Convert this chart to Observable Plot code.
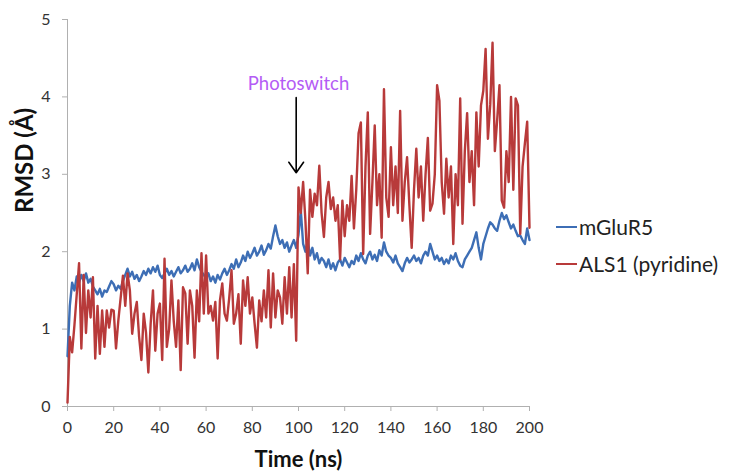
<!DOCTYPE html>
<html>
<head>
<meta charset="utf-8">
<script src="https://cdn.jsdelivr.net/npm/d3@7"></script>
<script src="https://cdn.jsdelivr.net/npm/@observablehq/plot@0.6"></script>
<style>
  html, body { margin: 0; padding: 0; background: #fff; }
  #wrap { position: relative; width: 733px; height: 472px; font-family: Lato, "Open Sans", sans-serif; }
  .legend { position: absolute; left: 556px; top: 208px; font-size: 21px; color: #222; }
  .legend .item { display: flex; align-items: center; height: 37px; }
  .legend .swatch { width: 21px; height: 2px; margin-right: 2px; }
</style>
</head>
<body>
<div id="wrap"></div>
<script>
const seriesNames = ["mGluR5", "ALS1 (pyridine)"];
const seriesColors = ["#3d6eb5", "#b83a3a"];
const yTicks = [0, 1, 2, 3, 4, 5];
const xTicks = [0, 20, 40, 60, 80, 100, 120, 140, 160, 180, 200];

// time in ns, one sample per ns
const timeNs = d3.range(0, 201);

const mGluR5 = [
  0.65,1.3,1.6,1.5,1.68,1.6,1.7,1.62,1.72,1.6,
  1.65,1.55,1.5,1.45,1.52,1.42,1.5,1.48,1.55,1.62,
  1.58,1.5,1.56,1.52,1.62,1.7,1.78,1.68,1.74,1.65,
  1.7,1.62,1.68,1.75,1.7,1.78,1.72,1.8,1.74,1.82,
  1.7,1.66,1.72,1.78,1.7,1.75,1.68,1.74,1.8,1.72,
  1.76,1.82,1.74,1.78,1.85,1.76,1.9,1.8,1.74,1.7,
  1.66,1.72,1.62,1.68,1.6,1.7,1.64,1.72,1.78,1.7,
  1.76,1.84,1.78,1.9,1.8,1.86,1.95,1.88,2.0,1.92,
  1.98,2.05,1.95,2.0,2.08,1.96,2.02,2.1,2.04,2.2,
  2.34,2.2,2.1,2.15,2.05,2.12,2.0,2.08,2.15,2.05,
  2.22,2.53,2.1,2.0,2.15,1.95,2.05,1.9,1.98,1.85,
  1.92,1.88,1.8,1.9,1.78,1.85,1.76,1.86,1.9,1.82,
  1.92,1.86,1.8,1.88,1.84,1.95,1.88,1.98,1.9,1.85,
  1.95,2.0,1.9,1.96,1.88,2.02,1.95,2.12,2.0,1.95,
  1.92,1.86,1.95,1.85,1.8,1.75,1.85,1.92,1.86,1.9,
  1.95,1.88,1.92,1.85,1.95,2.0,1.95,2.1,2.0,1.9,
  1.95,1.88,1.92,1.84,1.9,1.85,1.95,1.9,1.98,1.88,
  1.82,1.8,1.9,1.95,2.0,2.05,2.15,2.25,2.05,1.9,
  2.1,2.2,2.3,2.38,2.35,2.3,2.27,2.4,2.5,2.42,
  2.47,2.38,2.3,2.35,2.27,2.2,2.21,2.15,2.1,2.3,
  2.15
];

const als1 = [
  0.05,0.9,0.7,1.05,1.45,1.85,0.75,1.7,0.95,1.5,
  1.15,1.67,0.62,1.3,0.68,1.24,0.77,1.24,1.02,1.25,
  1.24,0.75,1.11,1.4,1.69,1.3,1.72,1.5,0.94,1.2,
  1.35,0.9,0.6,1.2,0.95,0.44,1.07,1.5,0.72,1.2,
  1.33,0.6,1.91,0.77,1.0,1.63,1.1,0.77,1.37,0.47,
  1.54,1.46,0.81,1.5,1.3,0.63,1.5,1.1,1.98,1.2,
  1.95,1.2,1.3,1.11,1.35,0.62,1.37,1.59,1.2,1.11,
  1.4,1.76,1.07,1.2,1.45,0.81,1.63,1.3,1.67,1.2,
  1.41,1.07,0.76,1.37,1.1,1.5,1.15,1.76,1.02,1.72,
  1.15,1.5,1.41,1.07,1.67,1.2,1.8,1.15,1.84,0.85,
  2.83,2.5,2.9,2.4,1.72,2.8,2.45,2.75,2.6,3.11,
  2.5,2.19,2.7,2.9,2.55,2.7,2.4,2.6,1.9,2.66,
  2.2,2.6,2.4,2.98,2.3,2.8,3.53,3.67,1.97,3.1,
  3.8,2.23,2.9,3.63,2.6,3.0,2.18,4.1,2.7,2.45,
  3.35,2.6,3.1,2.5,3.82,2.4,2.9,3.22,2.6,2.05,
  2.8,3.33,2.7,3.1,2.4,3.0,3.47,2.53,2.62,3.0,
  4.15,3.95,2.9,2.49,3.2,2.7,3.1,2.1,3.0,2.6,
  3.98,2.36,3.3,3.79,2.9,3.3,2.6,3.8,3.1,3.89,
  4.08,4.62,3.46,3.9,4.7,3.3,3.7,4.15,2.66,2.57,
  3.3,2.9,4.0,2.8,3.98,3.89,2.23,3.1,3.4,3.68,
  2.31
];

// annotation
const noteText = ["Photoswitch"];
const noteX = [100];
const noteY = [4.16];
const arrowX = [99];
const arrowFrom = [3.99];
const arrowTo = [3.02];

const rows = [];
timeNs.forEach((t, i) => {
  rows.push({t, v: mGluR5[i], s: seriesNames[0]});
});
timeNs.forEach((t, i) => {
  rows.push({t, v: als1[i], s: seriesNames[1]});
});

const chart = Plot.plot({
  width: 733,
  height: 472,
  marginLeft: 67,
  marginRight: 204,
  marginTop: 19,
  marginBottom: 66,
  style: {fontFamily: "Lato, 'Open Sans', sans-serif", fontSize: "16px", color: "#333", background: "#fff"},
  x: {domain: [0, 200], ticks: xTicks, label: null},
  y: {domain: [0, 5], ticks: yTicks, label: null},
  color: {domain: seriesNames, range: seriesColors},
  marks: [
    Plot.ruleX([0], {stroke: "#b0b0b0", strokeWidth: 1}),
    Plot.ruleY([0], {stroke: "#b0b0b0", strokeWidth: 1}),
    Plot.axisX({ticks: xTicks, tickSize: 5, tickPadding: 10, stroke: "#b0b0b0", fill: "#333", fontSize: 16, tickFormat: d3.format("d"), label: null}),
    Plot.axisY({ticks: yTicks, tickSize: 5, tickPadding: 12, stroke: "#b0b0b0", fill: "#333", fontSize: 16, tickFormat: d3.format("d"), label: null}),
    Plot.line(rows, {x: "t", y: "v", z: "s", stroke: "s", strokeWidth: 2.4, strokeLinejoin: "round"}),
    Plot.text(noteText, {x: noteX, y: noteY, text: d => d, fill: "#b45cf5", fontSize: 18.5, textAnchor: "middle"}),
    Plot.arrow([0], {x1: arrowX, x2: arrowX, y1: arrowFrom, y2: arrowTo, stroke: "#000", strokeWidth: 1.6, headLength: 12, headAngle: 70}),
    Plot.text(["Time (ns)"], {frameAnchor: "bottom", dy: 60, text: d => d, fontWeight: "bold", fontSize: 22, fill: "#111"}),
    Plot.text(["RMSD (Å)"], {frameAnchor: "left", dx: -42, rotate: -90, text: d => d, fontWeight: "bold", fontSize: 24, fill: "#111"})
  ]
});

const wrap = document.getElementById("wrap");
wrap.appendChild(chart);

const legend = document.createElement("div");
legend.className = "legend";
seriesNames.forEach((name, i) => {
  const item = document.createElement("div");
  item.className = "item";
  const sw = document.createElement("span");
  sw.className = "swatch";
  sw.style.background = seriesColors[i];
  const lab = document.createElement("span");
  lab.textContent = name;
  item.appendChild(sw);
  item.appendChild(lab);
  legend.appendChild(item);
});
wrap.appendChild(legend);
</script>
</body>
</html>
